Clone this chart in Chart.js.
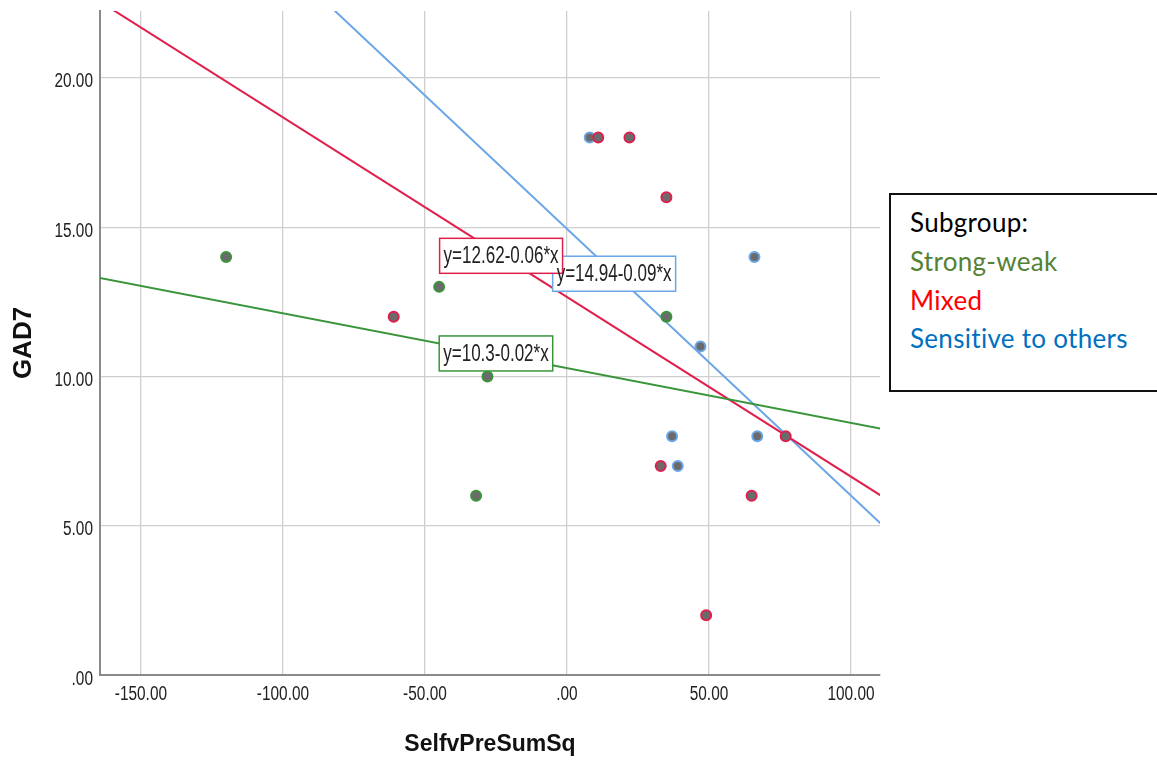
<!DOCTYPE html>
<html>
<head>
<meta charset="utf-8">
<script src="https://cdn.jsdelivr.net/npm/chart.js@4"></script>
<style>
  body { margin: 0; background: #fff; overflow: hidden; }
  #wrap { position: relative; width: 1157px; height: 764px; }
  #legendBox {
    position: absolute; left: 889px; top: 193px; width: 320px; height: 199px;
    border: 2px solid #111; background: #fff;
    font-family: Lato, "Open Sans", sans-serif; font-size: 26px; letter-spacing: 0.3px;
    padding: 8px 0 0 19px; box-sizing: border-box; line-height: 38.8px;
  }
</style>
</head>
<body>
<div id="wrap">
  <canvas id="myChart" width="1157" height="764"></canvas>
  <div id="legendBox">
    <div style="color:#000">Subgroup:</div>
    <div style="color:#548235">Strong-weak</div>
    <div style="color:#ff0000">Mixed</div>
    <div style="color:#0070c0">Sensitive to others</div>
  </div>
</div>
<script>
// points per subgroup
const strongWeakX = [-120, -45, 35, -28, -32];
const strongWeakY = [14, 13, 12, 10, 6];
const mixedX = [11, 22, 35, -61, 33, 65, 77, 49];
const mixedY = [18, 18, 16, 12, 7, 6, 8, 2];
const sensitiveX = [8, 66, 47, 37, 67, 39];
const sensitiveY = [18, 14, 11, 8, 8, 7];

// fit lines, read at both ends of the x range
const fitX = [-165, 111];
const fitStrongWeakY = [13.31, 8.24];
const fitMixedY = [22.59, 5.98];
const fitSensitiveY = [29.69, 5.02];
const eqLabels = ['y=10.3-0.02*x', 'y=12.62-0.06*x', 'y=14.94-0.09*x'];

const xTicks = [-150, -100, -50, 0, 50, 100];
const yTicks = [0, 5, 10, 15, 20];

const green = '#3a953a', red = '#e0204c', blue = '#6aa6e8';
const pointFill = '#6b6b6b';

function pts(xs, ys) {
  return xs.map((v, i) => ({x: v, y: ys[i]}));
}

// where the equation boxes sit (data coords of box centre)
const eqAnchors = [
  {x: -25, y: 10.77, color: green},
  {x: -23.2, y: 14.04, color: red},
  {x: 16.6, y: 13.44, color: blue}
];

const fmt = v => v === 0 ? '.00' : v.toFixed(2);

// narrow text: the spss output is squeezed, so draw it scaled
function narrowText(ctx, text, x, y, align, size, sx) {
  ctx.save();
  ctx.translate(x, y);
  ctx.scale(sx, 1);
  ctx.font = size + 'px "Liberation Sans", Arial, sans-serif';
  ctx.textAlign = align;
  ctx.textBaseline = 'middle';
  ctx.fillText(text, 0, 0);
  ctx.restore();
}

const tickLabels = {
  id: 'tickLabels',
  afterDraw(chart) {
    const ctx = chart.ctx;
    const xs = chart.scales.x, ys = chart.scales.y;
    const area = chart.chartArea;
    ctx.save();
    ctx.fillStyle = '#222';
    xs.ticks.forEach(t => {
      narrowText(ctx, fmt(t.value), xs.getPixelForValue(t.value), area.bottom + 19, 'center', 20, 0.77);
    });
    ys.ticks.forEach(t => {
      narrowText(ctx, fmt(t.value), area.left - 7, ys.getPixelForValue(t.value) + 4, 'right', 20, 0.77);
    });
    ctx.restore();
  }
};

const eqPlugin = {
  id: 'eqBoxes',
  afterDatasetsDraw(chart) {
    const ctx = chart.ctx;
    const xs = chart.scales.x, ys = chart.scales.y;
    const sx = 0.74;
    ctx.save();
    ctx.font = '23px "Liberation Sans", Arial, sans-serif';
    const boxes = eqAnchors.map((a, i) => {
      const w = ctx.measureText(eqLabels[i]).width * sx + 8;
      return {cx: xs.getPixelForValue(a.x), cy: ys.getPixelForValue(a.y), w: w, h: 35, color: a.color, text: eqLabels[i]};
    });
    // blue first, red over it, then green
    [2, 1, 0].forEach(i => {
      const b = boxes[i];
      ctx.fillStyle = '#fff';
      ctx.fillRect(b.cx - b.w / 2, b.cy - b.h / 2, b.w, b.h);
      ctx.strokeStyle = b.color;
      ctx.lineWidth = 1.5;
      ctx.strokeRect(b.cx - b.w / 2, b.cy - b.h / 2, b.w, b.h);
    });
    ctx.fillStyle = '#222';
    boxes.forEach(b => narrowText(ctx, b.text, b.cx, b.cy + 1, 'center', 23, sx));
    ctx.restore();
  }
};

const whiteBg = {
  id: 'whiteBg',
  beforeDraw(chart) {
    const ctx = chart.ctx;
    ctx.save();
    ctx.fillStyle = '#fff';
    ctx.fillRect(0, 0, chart.width, chart.height);
    ctx.restore();
  }
};

const ctx = document.getElementById('myChart');
const chart = new Chart(ctx, {
  type: 'scatter',
  data: {
    datasets: [
      {
        label: 'Strong-weak', data: pts(strongWeakX, strongWeakY),
        backgroundColor: pointFill, borderColor: green, borderWidth: 2, pointRadius: 5
      },
      {
        label: 'Mixed', data: pts(mixedX, mixedY),
        backgroundColor: pointFill, borderColor: red, borderWidth: 2, pointRadius: 5
      },
      {
        label: 'Sensitive to others', data: pts(sensitiveX, sensitiveY),
        backgroundColor: pointFill, borderColor: blue, borderWidth: 2, pointRadius: 5
      },
      {
        label: 'fit1', data: pts(fitX, fitStrongWeakY), showLine: true,
        borderColor: green, borderWidth: 2, pointRadius: 0
      },
      {
        label: 'fit2', data: pts(fitX, fitMixedY), showLine: true,
        borderColor: red, borderWidth: 2, pointRadius: 0
      },
      {
        label: 'fit3', data: pts(fitX, fitSensitiveY), showLine: true,
        borderColor: blue, borderWidth: 2, pointRadius: 0
      }
    ]
  },
  options: {
    responsive: false,
    animation: false,
    layout: {padding: {top: 11, right: 277, left: 0, bottom: 0}},
    plugins: {
      legend: {display: false},
      tooltip: {enabled: false}
    },
    scales: {
      x: {
        min: -164.4, max: 110.2,
        afterBuildTicks: s => { s.ticks = xTicks.map(v => ({value: v})); },
        afterFit: s => { s.height = 89; s.paddingLeft = 0; s.paddingRight = 0; },
        grid: {color: '#cfcfcf', lineWidth: 1.3, drawTicks: false},
        border: {color: '#8a8a8a', width: 2},
        ticks: {display: false},
        title: {
          display: true, text: 'SelfvPreSumSq', color: '#111',
          font: {family: '"Liberation Sans", Arial, sans-serif', size: 23, weight: 'bold'},
          padding: {top: 0, bottom: 6}
        }
      },
      y: {
        min: 0, max: 22.24,
        afterBuildTicks: s => { s.ticks = yTicks.map(v => ({value: v})); },
        afterFit: s => { s.width = 100; s.paddingTop = 0; s.paddingBottom = 0; },
        grid: {color: '#cfcfcf', lineWidth: 1.3, drawTicks: false},
        border: {color: '#8a8a8a', width: 2},
        ticks: {display: false},
        title: {
          display: true, text: 'GAD7', color: '#111',
          font: {family: '"Liberation Sans", Arial, sans-serif', size: 26, weight: 'bold'},
          padding: {top: 8, bottom: 0}
        }
      }
    }
  },
  plugins: [whiteBg, eqPlugin, tickLabels]
});
</script>
</body>
</html>
